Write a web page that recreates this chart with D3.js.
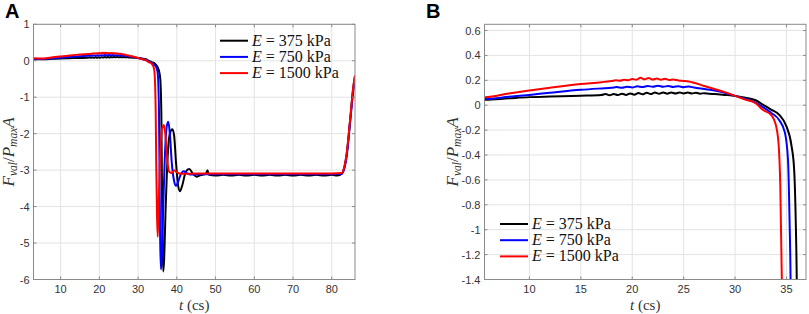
<!DOCTYPE html>
<html><head><meta charset="utf-8">
<script src="https://cdn.jsdelivr.net/npm/d3@7"></script>
<style>body{margin:0;background:#fff}</style>
</head><body>
<svg id="c" width="809" height="314" xmlns="http://www.w3.org/2000/svg"></svg>
<script>
// ---- data (t in cs, Fval/(Pmax A)) ----
const seriesLabels = ["375", "750", "1500"];
const seriesColors = ["#000000", "#0000ff", "#ff0000"];

const black375 = [[3,0.04],[5.7,0.043],[8,0.055],[10,0.065],[12,0.07],[15,0.076],[17,0.082],[17.4,0.09],[17.8,0.08],[18.2,0.09],[18.6,0.082],[19,0.093],[19.4,0.083],[19.8,0.095],[20.2,0.085],[20.6,0.098],[21,0.088],[21.4,0.1],[21.8,0.09],[22.2,0.102],[22.6,0.092],[23,0.103],[23.4,0.093],[23.8,0.103],[24.2,0.094],[24.6,0.103],[25,0.095],[25.4,0.102],[25.8,0.094],[26.2,0.1],[26.6,0.093],[27,0.097],[27.5,0.092],[28,0.09],[29,0.083],[30,0.075],[31,0.06],[32,0.04],[32.7,0.005],[33.5,-0.035],[34.3,-0.077],[35,-0.17],[35.5,-0.33],[35.75,-0.52],[35.9,-0.92],[36,-1.4],[36.15,-3.2],[36.3,-4.9],[36.5,-5.78],[36.7,-5.5],[37.1,-4.1],[37.6,-2.7],[38.2,-2.0],[38.85,-1.88],[39.3,-2.05],[39.8,-2.8],[40.3,-3.4],[40.8,-3.58],[41.4,-3.42],[42.3,-3.05],[43.2,-2.97],[44.2,-3.1],[45.1,-3.18],[46,-3.14],[47.5,-3.1],[47.9,-3.0],[48.3,-3.13],[50,-3.15],[52,-3.13],[54,-3.15],[56,-3.13],[58,-3.15],[60,-3.13],[62,-3.15],[64,-3.13],[66,-3.15],[68,-3.13],[70,-3.15],[72,-3.13],[74,-3.15],[76,-3.13],[78,-3.15],[80,-3.13],[81.5,-3.15],[82.6,-3.1],[83.2,-2.95],[83.9,-2.53],[84.75,-1.62],[85.6,-0.7],[86,-0.43]];

const blue750 = [[3,0.05],[5.7,0.05],[8,0.068],[10,0.083],[12,0.1],[15,0.124],[17,0.135],[18,0.14],[18.5,0.146],[19,0.14],[19.5,0.148],[20,0.143],[20.5,0.152],[21,0.146],[21.5,0.155],[22,0.148],[22.5,0.156],[23,0.148],[23.5,0.155],[24,0.147],[24.5,0.153],[25,0.145],[25.5,0.15],[26,0.142],[27,0.13],[28,0.118],[29,0.1],[30,0.075],[31,0.05],[32,0.02],[32.7,-0.015],[33.5,-0.06],[34.3,-0.12],[34.85,-0.22],[35.15,-0.44],[35.3,-0.92],[35.4,-1.4],[35.55,-3.2],[35.7,-4.9],[35.9,-5.72],[36.1,-5.45],[36.5,-4.0],[37,-2.4],[37.4,-1.8],[37.8,-1.67],[38.2,-2.0],[38.7,-2.8],[39.3,-3.3],[39.8,-3.43],[40.4,-3.3],[41,-3.12],[41.8,-3.03],[42.6,-3.08],[43.5,-3.12],[50,-3.11],[60,-3.11],[70,-3.11],[80,-3.11],[82.6,-3.1],[83.2,-2.97],[83.9,-2.58],[84.75,-1.68],[85.6,-0.8],[86,-0.55]];

const red1500 = [[3,0.07],[5.7,0.065],[8,0.095],[10,0.118],[12,0.14],[15,0.17],[17,0.185],[18,0.195],[18.4,0.2],[18.8,0.196],[19.2,0.205],[19.6,0.2],[20,0.21],[20.4,0.205],[20.8,0.22],[21.2,0.208],[21.6,0.218],[22,0.206],[22.4,0.215],[22.8,0.205],[23.2,0.212],[23.6,0.202],[24,0.207],[24.5,0.198],[25,0.195],[25.5,0.19],[26,0.18],[27,0.155],[28,0.13],[29,0.105],[30,0.075],[31,0.045],[32,0.017],[32.7,-0.037],[33.5,-0.077],[34,-0.17],[34.25,-0.33],[34.4,-0.65],[34.55,-1.4],[34.7,-3.0],[34.9,-4.3],[35.07,-4.83],[35.3,-4.0],[35.7,-2.6],[36.2,-1.85],[36.7,-1.76],[37.1,-2.1],[37.6,-2.8],[38.1,-3.05],[38.7,-3.08],[39.4,-3.0],[40,-3.06],[41,-3.1],[50,-3.09],[60,-3.09],[70,-3.09],[80,-3.09],[82.6,-3.08],[83.2,-2.93],[83.9,-2.5],[84.75,-1.6],[85.6,-0.68],[86,-0.4]];

const seriesData = [black375, blue750, red1500];

const ticksAx = [10, 20, 30, 40, 50, 60, 70, 80];
const ticksAy = [1, 0, -1, -2, -3, -4, -5, -6];
const ticksBx = [10, 15, 20, 25, 30, 35];
const ticksBy = [0.6, 0.4, 0.2, 0, -0.2, -0.4, -0.6, -0.8, -1, -1.2, -1.4];

// ---- drawing ----
const svg = d3.select("#c");
const sansFont = "'Liberation Sans', Arial, sans-serif";
const serifFont = "'Liberation Serif', 'Times New Roman', serif";

function drawPanel(p) {
  const x = d3.scaleLinear().domain(p.xDomain).range([p.left, p.right]);
  const y = d3.scaleLinear().domain(p.yDomain).range([p.bottom, p.top]);
  const g = svg.append("g");

  g.append("rect").attr("x", p.left).attr("y", p.top)
    .attr("width", p.right - p.left).attr("height", p.bottom - p.top).attr("fill", "#fff");

  // grid
  g.selectAll(".gx").data(p.xTicks).join("line")
    .attr("x1", d => x(d)).attr("x2", d => x(d)).attr("y1", p.top).attr("y2", p.bottom)
    .attr("stroke", "#e3e3e3").attr("stroke-width", 1);
  g.selectAll(".gy").data(p.yTicks).join("line")
    .attr("y1", d => y(d)).attr("y2", d => y(d)).attr("x1", p.left).attr("x2", p.right)
    .attr("stroke", "#e3e3e3").attr("stroke-width", 1);

  // clip
  const cid = "clip" + p.name;
  svg.append("clipPath").attr("id", cid).append("rect")
    .attr("x", p.left).attr("y", p.top).attr("width", p.right - p.left).attr("height", p.bottom - p.top);

  const line = d3.line().x(d => x(d[0])).y(d => y(d[1])).curve(d3.curveMonotoneX);
  g.append("g").attr("clip-path", `url(#${cid})`)
    .selectAll("path").data(seriesData).join("path")
    .attr("d", line).attr("fill", "none")
    .attr("stroke", (d, i) => seriesColors[i]).attr("stroke-width", p.lw)
    .attr("stroke-linejoin", "round");

  // box
  g.append("rect").attr("x", p.left).attr("y", p.top)
    .attr("width", p.right - p.left).attr("height", p.bottom - p.top)
    .attr("fill", "none").attr("stroke", "#8a8a8a").attr("stroke-width", 1);

  // ticks inward
  const tl = 3;
  p.xTicks.forEach(t => {
    g.append("line").attr("x1", x(t)).attr("x2", x(t)).attr("y1", p.bottom).attr("y2", p.bottom - tl).attr("stroke", "#8a8a8a");
    g.append("line").attr("x1", x(t)).attr("x2", x(t)).attr("y1", p.top).attr("y2", p.top + tl).attr("stroke", "#8a8a8a");
  });
  p.yTicks.forEach(t => {
    g.append("line").attr("y1", y(t)).attr("y2", y(t)).attr("x1", p.left).attr("x2", p.left + tl).attr("stroke", "#8a8a8a");
    g.append("line").attr("y1", y(t)).attr("y2", y(t)).attr("x1", p.right).attr("x2", p.right - tl).attr("stroke", "#8a8a8a");
  });

  // tick labels
  g.selectAll(".tx").data(p.xTicks).join("text")
    .attr("x", d => x(d)).attr("y", p.bottom + 13.5)
    .attr("text-anchor", "middle").attr("font-family", sansFont).attr("font-size", 11)
    .attr("fill", "#333").text(d => String(d));
  g.selectAll(".ty").data(p.yTicks).join("text")
    .attr("x", p.left - 4).attr("y", d => y(d) + 4)
    .attr("text-anchor", "end").attr("font-family", sansFont).attr("font-size", 11)
    .attr("fill", "#333").text(d => String(d));

  // x label
  const xl = g.append("text").attr("x", (p.left + p.right) / 2).attr("y", p.bottom + 30)
    .attr("text-anchor", "middle").attr("font-family", serifFont).attr("font-size", 15).attr("fill", "#333");
  xl.append("tspan").attr("font-style", "italic").text("t");
  xl.append("tspan").text(" (cs)");

  // y label
  const yl = g.append("text")
    .attr("transform", `translate(${p.ylabX},${(p.top + p.bottom) / 2}) rotate(-90)`)
    .attr("text-anchor", "middle").attr("font-family", serifFont).attr("font-size", 17)
    .attr("fill", "#333").attr("font-style", "italic");
  yl.append("tspan").text("F");
  yl.append("tspan").attr("font-size", 11.5).attr("dy", 3).text("val");
  yl.append("tspan").attr("dy", -3).attr("font-style", "normal").text("/");
  yl.append("tspan").text("P");
  yl.append("tspan").attr("font-size", 11.5).attr("dy", 3).text("max");
  yl.append("tspan").attr("dy", -3).text("A");

  // legend
  seriesLabels.forEach((lab, i) => {
    const ly = p.legY + i * 16.2;
    g.append("line").attr("x1", p.legX).attr("x2", p.legX + 28).attr("y1", ly).attr("y2", ly)
      .attr("stroke", seriesColors[i]).attr("stroke-width", 2);
    const t = g.append("text").attr("x", p.legX + 32).attr("y", ly + 5)
      .attr("font-family", serifFont).attr("font-size", 16).attr("fill", "#111");
    t.append("tspan").attr("font-style", "italic").text("E");
    t.append("tspan").text(" = " + lab + " kPa");
  });

  // panel letter
  svg.append("text").attr("x", p.letX).attr("y", 18).attr("font-family", sansFont)
    .attr("font-weight", "bold").attr("font-size", 20).attr("fill", "#000").text(p.name);
}

drawPanel({name: "A", xDomain: [3, 86], yDomain: [-6, 1], xTicks: ticksAx, yTicks: ticksAy,
  left: 33.5, right: 355, top: 24.3, bottom: 279.5, lw: 2, ylabX: 14,
  legX: 220, legY: 40.7, letX: 5});
drawPanel({name: "B", xDomain: [5.63, 36.9], yDomain: [-1.4, 0.65], xTicks: ticksBx, yTicks: ticksBy,
  left: 484.5, right: 806, top: 24.3, bottom: 279.5, lw: 2, ylabX: 458,
  legX: 500, legY: 224, letX: 426});
</script>
</body></html>
